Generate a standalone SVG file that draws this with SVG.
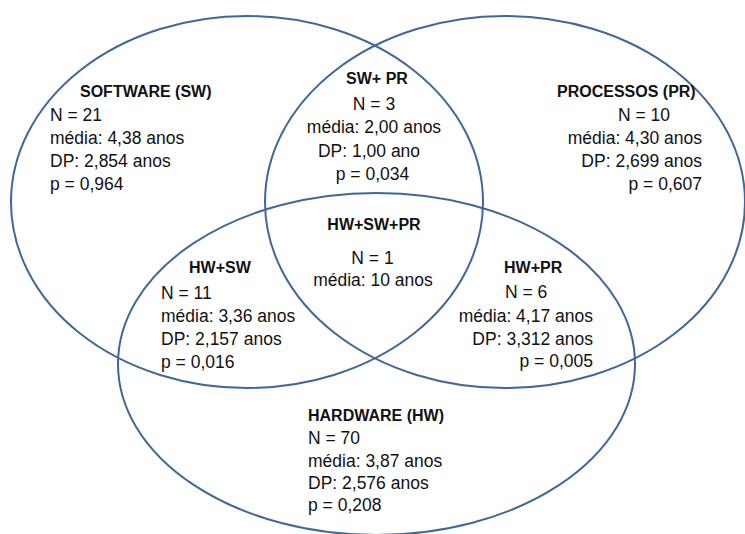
<svg xmlns="http://www.w3.org/2000/svg" width="745" height="534" viewBox="0 0 745 534">
  <style>
    .set { fill: none; stroke: #3F6899; stroke-width: 2; }
    text { font-family: "Liberation Sans", Arial, sans-serif; font-size: 17.5px; fill: #111; }
    .title { font-weight: bold; font-size: 16px; }
    .mid { text-anchor: middle; }
    .end { text-anchor: end; }
  </style>
  <rect width="745" height="534" fill="#fff"/>

  <!-- Software set -->
  <g id="set-sw">
    <ellipse class="set" cx="247" cy="202" rx="236" ry="186"/>
    <text class="title" x="80" y="97">SOFTWARE (SW)</text>
    <text x="50" y="121">N = 21</text>
    <text x="50" y="144">média: 4,38 anos</text>
    <text x="50" y="167">DP: 2,854 anos</text>
    <text x="50" y="190">p = 0,964</text>
  </g>

  <!-- Processes set -->
  <g id="set-pr">
    <ellipse class="set" cx="505" cy="202" rx="240" ry="186"/>
    <text class="title" x="557" y="97">PROCESSOS (PR)</text>
    <text x="618" y="121">N = 10</text>
    <text class="end" x="702" y="144">média: 4,30 anos</text>
    <text class="end" x="702" y="167">DP: 2,699 anos</text>
    <text class="end" x="702" y="190">p = 0,607</text>
  </g>

  <!-- Hardware set -->
  <g id="set-hw">
    <ellipse class="set" cx="376.5" cy="364" rx="258.5" ry="171"/>
    <text class="title" x="308" y="421">HARDWARE (HW)</text>
    <text x="308" y="444">N = 70</text>
    <text x="308" y="467">média: 3,87 anos</text>
    <text x="308" y="489">DP: 2,576 anos</text>
    <text x="308" y="511">p = 0,208</text>
  </g>

  <!-- SW and PR overlap -->
  <g id="sw-pr">
    <text class="title mid" x="377" y="84">SW+ PR</text>
    <text class="mid" x="374" y="110">N = 3</text>
    <text class="mid" x="374" y="133">média: 2,00 anos</text>
    <text class="mid" x="369" y="157">DP: 1,00 ano</text>
    <text class="mid" x="372.5" y="180">p = 0,034</text>
  </g>

  <!-- All three sets -->
  <g id="hw-sw-pr">
    <text class="title mid" x="374" y="230">HW+SW+PR</text>
    <text class="mid" x="372.5" y="264">N = 1</text>
    <text class="mid" x="373" y="286">média: 10 anos</text>
  </g>

  <!-- HW and SW overlap -->
  <g id="hw-sw">
    <text class="title" x="189" y="273">HW+SW</text>
    <text x="161" y="299">N = 11</text>
    <text x="161" y="322">média: 3,36 anos</text>
    <text x="161" y="345">DP: 2,157 anos</text>
    <text x="161" y="368">p = 0,016</text>
  </g>

  <!-- HW and PR overlap -->
  <g id="hw-pr">
    <text class="title" x="504" y="273">HW+PR</text>
    <text x="505" y="298">N = 6</text>
    <text class="end" x="593" y="322">média: 4,17 anos</text>
    <text class="end" x="593" y="344.5">DP: 3,312 anos</text>
    <text class="end" x="593" y="367">p = 0,005</text>
  </g>
</svg>
